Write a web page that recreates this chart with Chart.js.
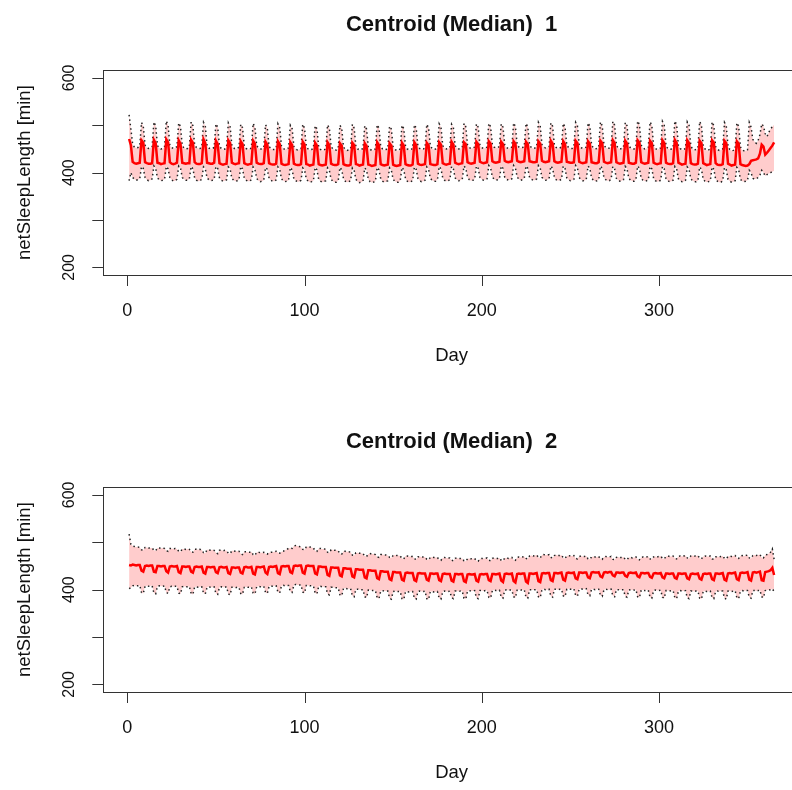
<!DOCTYPE html>
<html>
<head>
<meta charset="utf-8">
<title>Centroid (Median)</title>
<script src="https://cdn.jsdelivr.net/npm/chart.js@4.4.0/dist/chart.umd.min.js"></script>
<style>
    html, body { margin: 0; padding: 0; background: #fff; overflow: hidden; }
    #wrap { position: relative; width: 792px; height: 790px; overflow: hidden; background: #fff; }
    #wrap canvas { position: absolute; left: 0; }
</style>
</head>
<body>
<div id="wrap">
    <canvas id="chart1" width="820" height="400" style="top:0px"></canvas>
    <canvas id="chart2" width="820" height="400" style="top:417px"></canvas>
</div>
<script>
// axis setup
const xTicks = [0, 100, 200, 300];
const yTicks = [200, 300, 400, 500, 600];
const yTickLabels = ['200', '', '400', '', '600'];
const titles = ['Centroid (Median)  1', 'Centroid (Median)  2'];

// days 1..365 (x categories)
const days = Array.from({ length: 365 }, (_, i) => i + 1);

// cluster 1 - median, one week per line
const c1Median = [
    471,458,423,420,419,420,421, 468,463,422,420,419,419,420, 469,462,421,420,418,419,420,
    470,464,422,419,418,419,421, 468,461,421,420,419,420,420, 469,463,422,419,418,418,420,
    470,462,421,420,419,419,421, 467,460,420,418,417,418,419, 468,462,421,419,418,419,420,
    466,460,420,418,417,418,419, 467,461,421,419,418,418,420, 465,459,420,418,417,417,419,
    466,460,419,417,416,417,418, 464,458,419,417,416,416,418, 465,459,418,417,415,416,417,
    463,457,418,416,415,416,417, 464,458,419,417,416,416,418, 462,457,418,416,415,415,417,
    463,458,418,417,415,416,417, 462,456,417,416,414,415,416, 464,458,418,416,415,416,417,
    462,457,417,415,414,415,416, 463,457,418,416,415,415,417, 464,458,419,417,416,417,418,
    463,458,418,417,416,416,418, 464,459,420,418,417,418,419, 465,459,421,419,418,419,420,
    464,460,422,420,419,420,421, 465,460,423,421,420,421,422, 466,461,424,422,421,422,423,
    465,460,425,423,422,423,424, 466,461,425,423,422,423,424, 465,460,424,423,422,422,423,
    466,461,425,423,422,423,424, 467,461,424,422,421,422,423, 466,460,423,422,421,421,422,
    467,462,423,421,420,421,422, 466,461,422,421,420,420,422, 467,462,423,421,420,421,422,
    468,462,422,420,419,420,421, 467,461,421,420,419,419,421, 468,463,422,420,419,420,421,
    467,462,421,419,418,419,420, 468,462,421,419,418,418,420, 469,463,421,419,417,418,419,
    468,462,420,418,417,417,419, 467,462,420,418,416,417,418, 468,463,420,417,416,416,418,
    467,462,419,417,415,416,417, 466,461,418,416,415,414,415, 418,425,426,427,428,430,440,
    459,455,438,442,447,452,457, 464
];

// cluster 1 - upper band
const c1Upper = [
    522,492,460,454,452,453,456, 506,498,458,453,451,452,455, 507,499,457,452,450,451,454,
    509,500,458,453,451,452,455, 505,497,457,452,450,451,454, 507,499,458,453,451,451,454,
    506,498,457,452,450,451,453, 503,496,456,451,449,450,453, 505,497,457,452,450,451,454,
    502,495,456,451,449,450,452, 504,496,457,452,450,450,453, 501,494,455,451,449,449,452,
    503,495,456,451,449,450,452, 500,493,455,450,448,449,451, 502,494,455,450,448,449,451,
    499,493,454,449,447,448,450, 501,494,455,450,448,448,451, 500,493,454,449,447,448,450,
    502,494,455,450,448,449,451, 499,492,454,449,447,448,450, 501,494,455,450,448,449,451,
    498,492,454,449,447,447,450, 500,493,455,450,448,449,451, 501,494,456,451,449,450,452,
    502,495,456,451,449,450,452, 503,496,457,452,450,451,453, 502,495,457,452,450,451,453,
    504,497,458,453,451,452,454, 503,496,458,453,451,452,454, 504,497,459,454,452,453,455,
    503,496,458,453,451,452,454, 505,497,459,454,452,453,455, 504,497,458,453,451,452,454,
    506,498,459,454,452,453,455, 505,498,458,453,451,452,454, 504,497,458,453,451,451,454,
    506,499,459,453,451,452,454, 505,498,458,452,450,451,453, 507,499,458,453,451,452,454,
    508,500,458,452,450,451,453, 506,499,457,452,450,450,453, 509,501,458,452,450,451,453,
    507,500,457,451,449,450,452, 508,500,457,451,449,450,452, 509,501,457,451,448,449,451,
    507,500,456,450,448,449,451, 508,500,456,450,447,448,450, 507,499,455,449,447,448,450,
    506,499,455,449,446,447,449, 505,498,454,448,446,446,448, 506,496,470,465,462,468,480,
    503,498,482,476,485,492,497, 501
];

// cluster 1 - lower band
const c1Lower = [
    383,400,390,386,384,385,387, 413,409,390,385,383,384,387, 414,409,389,385,383,384,386,
    413,408,390,385,382,383,386, 414,410,390,386,384,384,387, 413,408,389,384,382,383,386,
    412,408,389,385,383,384,386, 413,409,389,384,382,383,385, 412,408,388,384,382,383,385,
    413,408,389,384,382,382,385, 412,407,388,383,381,382,384, 411,407,388,384,382,382,385,
    412,407,387,383,381,382,384, 411,406,387,383,381,381,384, 410,406,387,382,380,381,383,
    411,406,386,382,380,381,383, 410,405,386,382,380,380,383, 411,406,387,382,380,381,383,
    410,405,386,381,379,380,382, 410,405,386,381,379,380,382, 411,406,387,382,380,381,383,
    410,405,386,382,380,380,383, 411,406,387,382,380,381,383, 412,407,388,383,381,382,384,
    412,407,388,384,382,382,385, 413,408,389,384,382,383,385, 413,408,389,385,383,384,386,
    414,409,390,385,383,384,386, 414,409,390,386,384,385,387, 415,410,391,386,384,385,387,
    414,409,390,386,384,385,387, 415,410,391,386,384,385,388, 414,409,390,386,384,384,387,
    415,410,390,386,384,385,387, 414,409,390,385,383,384,386, 414,409,389,385,383,384,386,
    415,410,390,385,383,383,386, 414,409,389,384,382,383,385, 414,409,389,385,383,383,386,
    413,408,388,384,382,383,385, 413,408,388,384,382,382,385, 414,409,388,384,382,383,385,
    413,408,388,383,381,382,384, 413,408,387,383,381,382,384, 413,408,387,383,381,381,384,
    412,407,387,383,381,381,383, 412,407,386,382,380,381,383, 412,407,386,382,380,380,383,
    411,406,386,382,380,381,383, 411,406,386,382,381,382,384, 405,400,388,386,387,390,395,
    405,400,393,396,398,400,402, 404
];

// cluster 2 - median
const c2Median = [
    452,451,453,452,451,452,452, 440,438,450,451,450,451,451, 438,437,450,450,449,450,450,
    439,436,449,450,449,449,450, 437,435,449,449,448,449,449, 438,436,448,449,448,448,449,
    436,434,448,448,447,448,448, 437,435,447,448,447,447,448, 435,433,447,447,446,447,447,
    436,434,447,448,447,447,448, 434,432,448,448,447,448,449, 436,433,448,449,448,449,450,
    435,433,449,450,449,450,450, 437,435,450,451,450,451,451, 436,434,450,451,450,450,450,
    434,432,449,449,448,448,448, 431,429,447,447,446,446,446, 430,428,445,445,444,444,444,
    428,426,443,443,442,442,442, 426,424,441,441,440,440,440, 424,422,439,439,438,438,438,
    422,420,437,437,436,436,436, 421,419,435,436,435,435,435, 420,418,434,435,434,434,434,
    421,419,434,434,433,434,434, 420,418,433,434,433,433,433, 419,417,433,433,432,433,433,
    418,416,432,433,432,432,433, 419,417,432,433,432,433,433, 420,418,433,433,432,433,434,
    419,416,433,434,433,433,434, 418,415,433,434,433,434,434, 417,414,434,434,433,434,435,
    418,416,434,435,434,435,435, 420,418,435,435,434,435,436, 421,419,435,436,435,435,436,
    424,422,436,436,435,436,436, 426,424,436,437,436,436,437, 428,426,436,437,436,437,437,
    430,428,436,436,435,436,436, 429,427,435,436,435,435,436, 428,426,435,435,434,435,435,
    427,425,434,435,434,434,435, 426,424,434,434,433,434,434, 425,423,434,434,433,434,434,
    424,422,433,434,433,433,434, 423,421,433,434,433,434,434, 422,420,434,434,433,434,435,
    421,419,434,435,434,435,436, 422,420,435,436,435,436,437, 421,419,436,437,436,437,438,
    420,419,437,438,439,441,446, 431
];

// cluster 2 - upper band
const c2Upper = [
    517,496,492,491,490,490,489, 484,483,489,489,488,488,488, 483,482,488,488,487,488,487,
    482,481,487,487,486,487,486, 481,480,486,486,485,486,485, 480,479,485,485,484,485,484,
    478,477,484,484,483,484,483, 478,476,483,483,482,483,482, 477,476,482,482,481,481,481,
    476,474,480,480,479,479,480, 474,472,479,479,478,478,479, 476,475,478,479,479,480,481,
    478,477,480,481,483,485,487, 488,487,492,493,492,491,490, 485,484,490,491,490,489,488,
    482,481,487,487,486,486,485, 479,478,484,484,483,483,482, 476,475,481,481,480,480,479,
    473,472,478,478,477,477,476, 471,470,475,476,475,475,474, 469,468,474,474,473,473,472,
    468,467,472,473,472,472,471, 466,465,471,471,470,470,470, 465,464,469,470,469,469,469,
    464,463,468,469,468,468,468, 463,462,467,468,467,467,467, 462,461,466,467,466,466,466,
    461,460,465,466,465,465,466, 461,460,465,466,466,466,467, 462,461,466,467,466,466,467,
    462,461,467,467,466,467,468, 463,462,468,469,468,469,470, 466,465,471,472,471,472,473,
    468,467,473,474,473,473,474, 468,467,472,473,472,472,473, 467,466,471,472,471,471,472,
    466,465,470,471,470,470,471, 465,464,469,470,469,469,470, 465,464,469,470,469,469,470,
    464,463,468,469,468,468,469, 464,463,468,468,467,468,469, 464,463,468,469,468,469,470,
    465,464,469,470,469,470,471, 466,465,470,471,470,470,471, 466,465,470,471,470,471,472,
    467,466,471,472,471,471,472, 466,465,470,471,470,470,471, 465,464,469,470,469,470,471,
    466,465,470,471,470,471,472, 467,466,471,472,471,472,473, 467,466,472,473,472,473,474,
    468,467,473,474,476,479,486, 464
];

// cluster 2 - lower band
const c2Lower = [
    402,404,408,409,408,408,409, 394,392,407,408,407,408,408, 393,391,407,408,407,407,408,
    394,392,406,407,406,407,407, 393,391,406,407,406,406,407, 392,390,406,406,405,406,406,
    393,391,405,406,405,405,406, 392,390,405,406,405,405,406, 391,389,405,405,404,405,405,
    392,390,405,406,405,405,406, 393,391,406,407,406,406,407, 394,392,407,408,407,408,408,
    395,393,408,409,408,409,409, 396,394,410,411,410,410,410, 395,393,409,409,408,408,408,
    393,391,407,407,406,406,406, 391,389,405,405,404,404,404, 389,387,403,403,402,402,402,
    387,385,401,401,400,400,400, 385,383,399,399,398,398,398, 383,381,397,398,397,397,397,
    382,380,396,397,396,396,396, 381,379,396,396,395,396,396, 382,380,396,397,396,396,397,
    381,379,396,396,395,395,396, 382,380,396,397,396,396,397, 383,381,397,397,396,397,397,
    382,380,397,398,397,397,398, 383,381,398,398,397,398,398, 384,382,398,399,398,398,399,
    384,382,399,399,398,399,399, 385,383,399,400,399,399,400, 384,382,400,400,399,400,400,
    385,383,400,401,400,400,401, 386,384,401,401,400,401,401, 387,385,401,402,401,401,402,
    388,386,401,402,401,401,402, 389,387,401,401,400,401,401, 388,386,400,401,400,400,401,
    387,385,400,400,399,400,400, 386,384,399,400,399,399,400, 385,383,399,399,398,399,399,
    384,382,398,399,398,398,399, 384,382,398,398,397,398,398, 383,381,397,398,397,397,398,
    383,381,397,397,396,397,397, 382,380,396,397,396,396,397, 383,381,396,397,396,397,397,
    382,380,397,397,396,397,398, 383,381,397,398,397,398,398, 384,382,398,398,397,398,399,
    385,383,398,399,399,400,402, 396
];

// R-style box, ticks, labels and title
const rAxesPlugin = {
    id: 'rAxes',
    afterDraw(chart, args, opts) {
        const ctx = chart.ctx;
        const area = chart.chartArea;
        const xs = chart.scales.x;
        const ys = chart.scales.y;
        const font = '"Liberation Sans", Arial, Helvetica, sans-serif';

        ctx.save();
        ctx.strokeStyle = '#333';
        ctx.lineWidth = 1;

        // plot box
        ctx.strokeRect(Math.round(area.left) + 0.5, Math.round(area.top) + 0.5,
            area.right - area.left, Math.round(area.bottom - area.top));

        // x axis ticks
        ctx.beginPath();
        xTicks.forEach(v => {
            const px = Math.round(xs.getPixelForValue(v)) + 0.5;
            ctx.moveTo(px, area.bottom);
            ctx.lineTo(px, area.bottom + 11);
        });
        // y axis ticks
        yTicks.forEach(v => {
            const py = Math.round(ys.getPixelForValue(v)) + 0.5;
            ctx.moveTo(area.left, py);
            ctx.lineTo(area.left - 11, py);
        });
        ctx.stroke();

        ctx.fillStyle = '#111';
        ctx.textAlign = 'center';
        ctx.textBaseline = 'middle';
        ctx.font = '18px ' + font;

        // x tick labels
        xTicks.forEach(v => {
            ctx.fillText(String(v), xs.getPixelForValue(v), area.bottom + 36);
        });

        // y tick labels, parallel to the axis
        ctx.font = '16px ' + font;
        yTicks.forEach((v, i) => {
            if (!yTickLabels[i]) return;
            ctx.save();
            ctx.translate(70, ys.getPixelForValue(v));
            ctx.rotate(-Math.PI / 2);
            ctx.fillText(yTickLabels[i], 0, 0);
            ctx.restore();
        });

        // axis titles
        ctx.font = '18.5px ' + font;
        const midX = (area.left + area.right) / 2;
        ctx.fillText('Day', midX, area.bottom + 81);
        ctx.save();
        ctx.translate(25, (area.top + area.bottom) / 2);
        ctx.rotate(-Math.PI / 2);
        ctx.fillText('netSleepLength [min]', 0, 0);
        ctx.restore();

        // main title
        ctx.font = 'bold 22px ' + font;
        ctx.fillText(opts.title, midX, 25);

        ctx.restore();
    }
};

function toPoints(values) {
    return values.map((v, i) => ({ x: days[i], y: v }));
}

// draw one panel
function renderPanel(canvasId, title, median, upper, lower) {
    const el = document.getElementById(canvasId);
    return new Chart(el, {
        type: 'line',
        data: {
            datasets: [
                {
                    label: 'median',
                    data: toPoints(median),
                    borderColor: '#ff0000',
                    borderWidth: 2.5,
                    pointRadius: 0,
                    fill: false,
                    tension: 0
                },
                {
                    label: 'upper',
                    data: toPoints(upper),
                    borderColor: '#222',
                    borderWidth: 1.5,
                    borderDash: [1.5, 3],
                    pointRadius: 0,
                    fill: false,
                    tension: 0
                },
                {
                    label: 'lower',
                    data: toPoints(lower),
                    borderColor: '#222',
                    borderWidth: 1.5,
                    borderDash: [1.5, 3],
                    backgroundColor: 'rgba(255, 0, 0, 0.2)',
                    pointRadius: 0,
                    fill: '-1',
                    tension: 0
                }
            ]
        },
        options: {
            responsive: false,
            animation: false,
            devicePixelRatio: 1,
            layout: {
                padding: { left: 103.3, top: 70.3, right: 20.1, bottom: 125 }
            },
            plugins: {
                legend: { display: false },
                tooltip: { enabled: false },
                rAxes: { title: title }
            },
            scales: {
                x: { type: 'linear', min: -13.56, max: 379.56, display: false },
                y: { type: 'linear', min: 184, max: 616, display: false }
            }
        },
        plugins: [rAxesPlugin]
    });
}

renderPanel('chart1', titles[0], c1Median, c1Upper, c1Lower);
renderPanel('chart2', titles[1], c2Median, c2Upper, c2Lower);
</script>
</body>
</html>
